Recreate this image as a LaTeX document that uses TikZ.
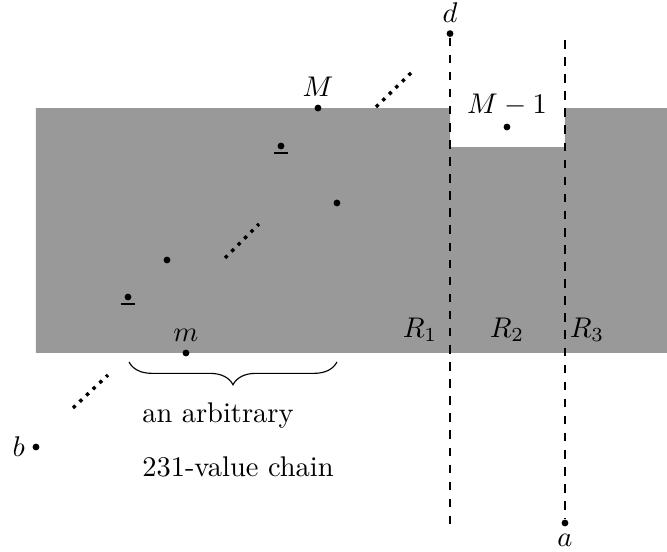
\documentclass[tikz,border=0pt]{standalone}
\usepackage{amsmath,amssymb}
\usetikzlibrary{positioning,decorations.pathreplacing}

\begin{document}
\begin{tikzpicture}[scale=1.0,label distance=-1pt,
  dot/.style={circle,fill,inner sep=0pt,minimum size=2.4pt},
  chain/.style={very thick,dotted}]
  \useasboundingbox (0,0) rectangle (8.235,6.815);
  \fill[gray!80] (0.444,2.457) -- (8.235,2.457) -- (8.235,5.481) -- (6.975,5.481)
    -- (6.975,5.0) -- (5.556,5.0) -- (5.556,5.481) -- (0.444,5.481) -- cycle;
  \node[dot,label=above:{$d$}] (d) at (5.556,6.40) {};
  \node[dot,label=below:{$a$}] (a) at (6.975,0.358) {};
  \coordinate (dend) at (5.556,0.333);
  \coordinate (atop) at (6.975,6.32);
  \draw[semithick,dashed] (d) -- (dend);
  \draw[semithick,dashed] (atop) -- (a);
  \node[dot,label=above:{$M$}] (M) at (3.926,5.481) {};
  \node[dot,label=above:{$M-1$}] (Mm) at (6.259,5.247) {};
  \node[dot] (u1) at (3.469,5.012) {};
  \draw[thick] ([xshift=-2.6pt,yshift=-2.5pt]u1.center) -- ++(5.2pt,0);
  \node[dot] (u2) at (1.580,3.148) {};
  \draw[thick] ([xshift=-2.6pt,yshift=-2.5pt]u2.center) -- ++(5.2pt,0);
  \node[dot] (p1) at (2.062,3.605) {};
  \node[dot] (p2) at (4.160,4.309) {};
  \node[dot,label=above:{$m$}] (m) at (2.296,2.457) {};
  \node[dot,label=left:{$b$}] (b) at (0.444,1.296) {};
  \draw[chain] (4.642,5.494) -- (5.074,5.914);
  \draw[chain] (2.778,3.630) -- (3.198,4.049);
  \draw[chain] (0.901,1.778) -- (1.333,2.185);
  \node (r1) at (5.185,2.741) {$R_1$};
  \node (r2) at (6.259,2.741) {$R_2$};
  \node (r3) at (7.247,2.741) {$R_3$};
  \coordinate (bl) at (1.593,2.346);
  \coordinate (br) at (4.160,2.346);
  \draw[decorate,decoration={brace,mirror,amplitude=8pt}] (bl) -- (br);
  \node[anchor=west,align=left,inner sep=0pt] (txt) at (1.75,1.383)
    {an arbitrary\\[7pt]231-value chain};
\end{tikzpicture}
\end{document}
